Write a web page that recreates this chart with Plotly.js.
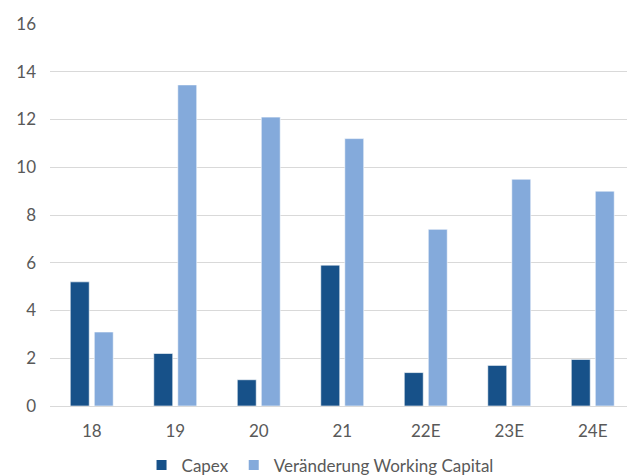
<!DOCTYPE html>
<html>
<head>
<meta charset="utf-8">
<script src="https://cdn.plot.ly/plotly-3.0.1.min.js"></script>
<style>
  html, body { margin: 0; padding: 0; background: #ffffff; }
  #chart { width: 627px; height: 476px; }
</style>
</head>
<body>
<div id="chart"></div>
<script>
// Years (E = estimate)
const years = ['18', '19', '20', '21', '22E', '23E', '24E'];
// Capex per year
const capex = [5.2, 2.2, 1.1, 5.9, 1.4, 1.7, 1.95];
// Change in working capital per year
const workingCapital = [3.1, 13.45, 12.1, 11.2, 7.4, 9.5, 9.0];
const yTicks = [0, 2, 4, 6, 8, 10, 12, 14, 16];

const fontFamily = 'Lato, "Open Sans", sans-serif';
const textColor = '#595959';

const traces = [
  {
    type: 'bar',
    name: 'Capex',
    x: years,
    y: capex,
    marker: { color: '#175189', line: { color: '#ffffff', width: 0.6 } },
    hoverinfo: 'x+y'
  },
  {
    type: 'bar',
    name: 'Veränderung Working Capital',
    x: years,
    y: workingCapital,
    marker: { color: '#84aadb', line: { color: '#ffffff', width: 0.6 } },
    hoverinfo: 'x+y'
  }
];

const layout = {
  width: 627,
  height: 476,
  margin: { l: 50, r: 0, t: 24, b: 70 },
  paper_bgcolor: '#ffffff',
  plot_bgcolor: '#ffffff',
  font: { family: fontFamily, size: 17, color: textColor },
  barmode: 'group',
  bargap: 0.425,
  bargroupgap: 0.21,
  showlegend: true,
  legend: {
    orientation: 'h',
    x: 0.468,
    xanchor: 'center',
    yref: 'container',
    y: 0.06,
    yanchor: 'top',
    font: { family: fontFamily, size: 17, color: textColor },
    itemsizing: 'constant',
    traceorder: 'normal',
    tracegroupgap: 0
  },
  xaxis: {
    type: 'category',
    range: [-0.5, 6.41],
    showgrid: false,
    showline: false,
    zeroline: false,
    ticks: '',
    ticklabelstandoff: 13,
    tickfont: { family: fontFamily, size: 17, color: textColor }
  },
  yaxis: {
    range: [0, 16],
    tickvals: yTicks,
    ticktext: yTicks.map(String),
    showgrid: true,
    gridcolor: '#d9d9d9',
    gridwidth: 1,
    zeroline: true,
    zerolinecolor: '#d9d9d9',
    zerolinewidth: 1,
    showline: false,
    ticks: '',
    ticklabelstandoff: 13,
    tickfont: { family: fontFamily, size: 17, color: textColor }
  }
};

Plotly.newPlot('chart', traces, layout, { displayModeBar: false, staticPlot: true });
</script>
</body>
</html>
